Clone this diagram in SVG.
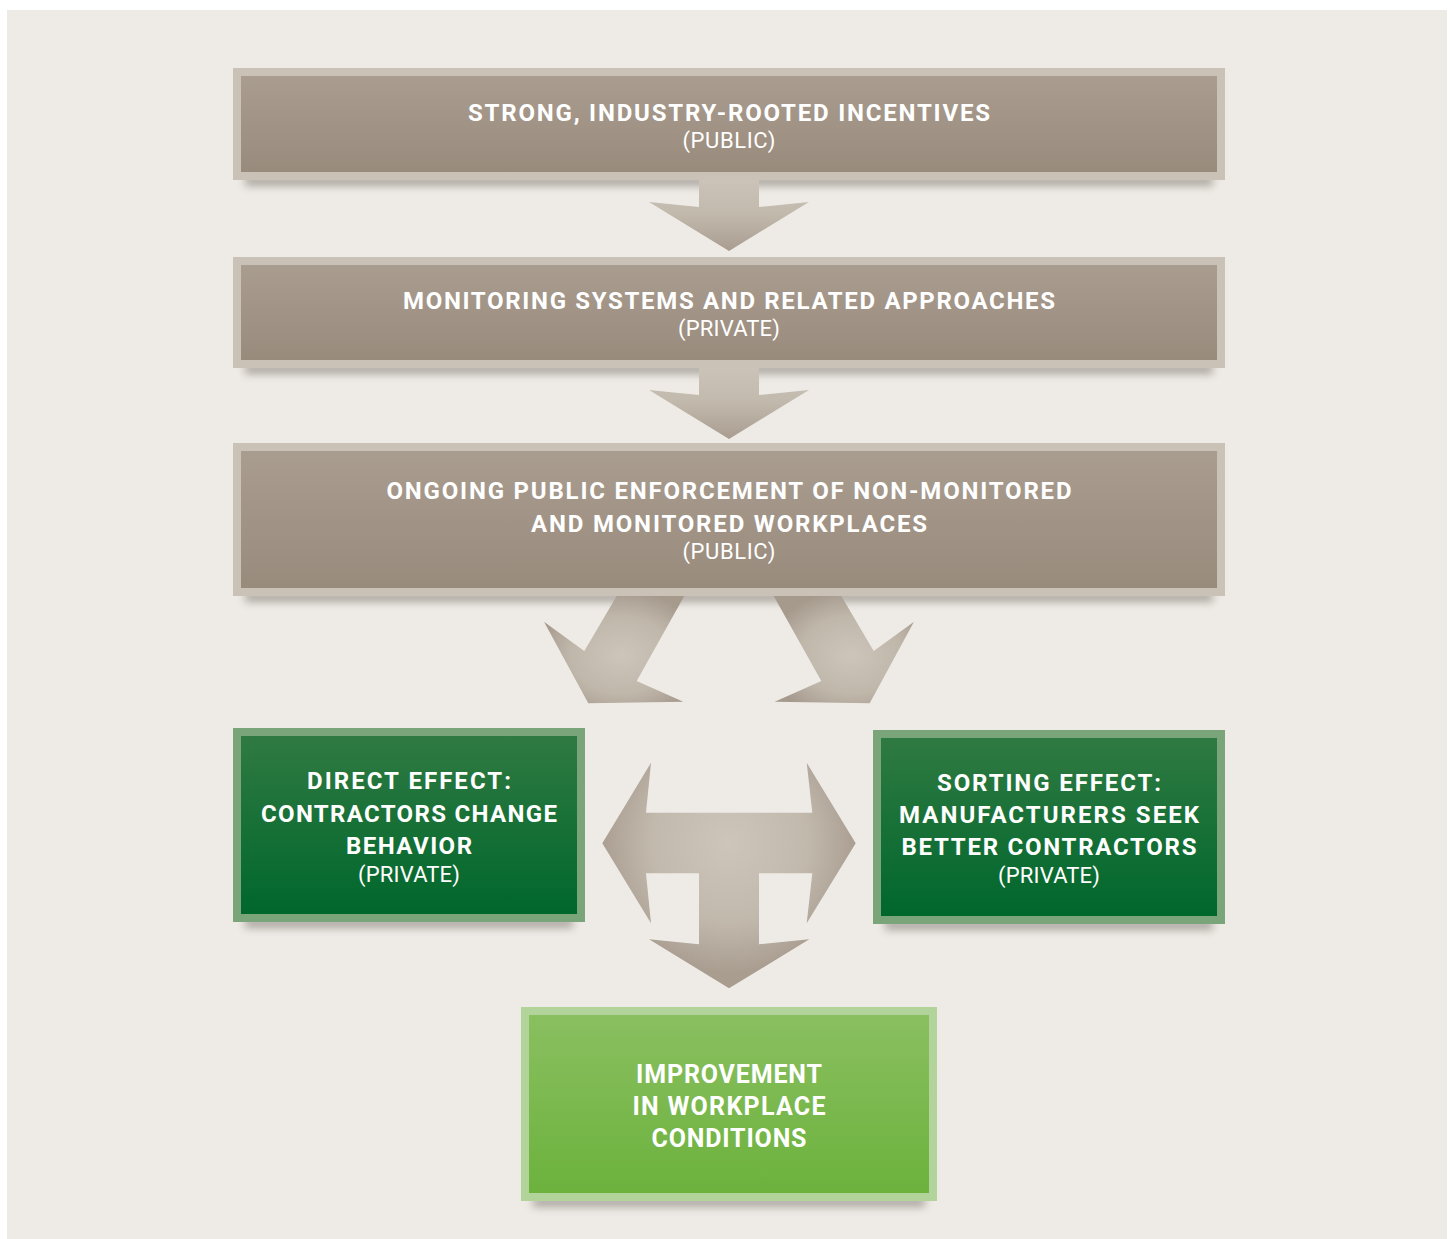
<svg xmlns="http://www.w3.org/2000/svg" width="1453" height="1239" viewBox="0 0 1453 1239">
<defs>
<style>
.t{font-family:Roboto,'Liberation Sans',sans-serif;font-weight:700;font-size:24px;fill:#ffffff;text-anchor:middle}
.p{font-weight:400;font-size:22px}
.b{font-size:25px}
.brownB{fill:#CAC2B7}
.brownI{fill:url(#gBrown)}
.dgB{fill:#7AA57A}
.dgI{fill:url(#gDark)}
.lgB{fill:#B2D49A}
.lgI{fill:url(#gLight)}
.sh{fill:#5a5148;opacity:0.45;filter:url(#blur)}
</style>
<linearGradient id="gBrown" x1="0" y1="0" x2="0" y2="1"><stop offset="0" stop-color="#A99D90"/><stop offset="1" stop-color="#998B7C"/></linearGradient>
<linearGradient id="gDark" x1="0" y1="0" x2="0" y2="1"><stop offset="0" stop-color="#2F7A42"/><stop offset="1" stop-color="#00672C"/></linearGradient>
<linearGradient id="gLight" x1="0" y1="0" x2="0" y2="1"><stop offset="0" stop-color="#8ABF60"/><stop offset="1" stop-color="#6CB23D"/></linearGradient>
<linearGradient id="gArrow" x1="0" y1="0" x2="0" y2="1"><stop offset="0" stop-color="#CBC3B8"/><stop offset="0.45" stop-color="#C3BAAE"/><stop offset="1" stop-color="#A99D90"/></linearGradient>
<radialGradient id="gDiag" cx="0.55" cy="0.55" r="0.6"><stop offset="0" stop-color="#CDC5BA"/><stop offset="0.6" stop-color="#C0B7AB"/><stop offset="1" stop-color="#A69A8D"/></radialGradient>
<radialGradient id="gT" gradientUnits="userSpaceOnUse" cx="729" cy="843" r="130"><stop offset="0" stop-color="#CDC5BA"/><stop offset="0.6" stop-color="#C2B9AD"/><stop offset="1" stop-color="#A99D90"/></radialGradient>
<filter id="blur" x="-10%" y="-100%" width="120%" height="300%"><feGaussianBlur stdDeviation="4"/></filter>
</defs>
<rect x="0" y="0" width="1453" height="1239" fill="#ffffff"/>
<rect x="7" y="10" width="1440" height="1229" fill="#EEEBE6"/>

<g id="shadows">
<rect class="sh" x="245" y="176" width="968" height="10"/>
<rect class="sh" x="245" y="364" width="968" height="10"/>
<rect class="sh" x="245" y="592" width="968" height="10"/>
<rect class="sh" x="245" y="918" width="328" height="10"/>
<rect class="sh" x="885" y="920" width="328" height="10"/>
<rect class="sh" x="533" y="1197" width="392" height="10"/>
</g>

<g id="connectors">
<polygon fill="url(#gArrow)" points="699,180 759,180 759,207 809,202 729,251 649,202 699,207"/>
<polygon fill="url(#gArrow)" points="699,368 759,368 759,395 809,390 729,439 649,390 699,395"/>
<polygon fill="url(#gDiag)" points="616.7,596 684.3,596 636.7,681 683.3,701.7 588.3,703.3 544,621.7 584.3,651"/>
<polygon fill="url(#gDiag)" points="773.7,596 841.3,596 873.7,651 914,621.7 869.7,703.3 774.7,701.7 821.3,681"/>
<polygon fill="url(#gT)" points="602.3,843.3 651,762.7 646,812.7 812.3,812.7 806.7,762.7 855.7,843.3 806.7,923.3 812.3,873.3 759,873.3 759,944.3 809.3,939.3 729,988.3 649,939.3 699,944.3 699,873.3 646,873.3 651,923.3"/>
</g>

<g id="node-incentives">
<rect class="brownB" x="233" y="68" width="992" height="112"/>
<rect class="brownI" x="241" y="76" width="976" height="96"/>
<text class="t" x="729" y="121" textLength="522" lengthAdjust="spacing">STRONG, INDUSTRY-ROOTED INCENTIVES</text>
<text class="t p" x="729" y="148" textLength="93" lengthAdjust="spacing">(PUBLIC)</text>
</g>

<g id="node-monitoring">
<rect class="brownB" x="233" y="257" width="992" height="111"/>
<rect class="brownI" x="241" y="265" width="976" height="95"/>
<text class="t" x="729" y="309" textLength="652" lengthAdjust="spacing">MONITORING SYSTEMS AND RELATED APPROACHES</text>
<text class="t p" x="729" y="336" textLength="102" lengthAdjust="spacing">(PRIVATE)</text>
</g>

<g id="node-enforcement">
<rect class="brownB" x="233" y="443" width="992" height="153"/>
<rect class="brownI" x="241" y="451" width="976" height="137"/>
<text class="t" x="729" y="499.3" textLength="685" lengthAdjust="spacing">ONGOING PUBLIC ENFORCEMENT OF NON-MONITORED</text>
<text class="t" x="729" y="531.6" textLength="396" lengthAdjust="spacing">AND MONITORED WORKPLACES</text>
<text class="t p" x="729" y="559" textLength="93" lengthAdjust="spacing">(PUBLIC)</text>
</g>

<g id="node-direct">
<rect class="dgB" x="233" y="728" width="352" height="194"/>
<rect class="dgI" x="241" y="736" width="336" height="178"/>
<text class="t" x="409" y="789" textLength="204" lengthAdjust="spacing">DIRECT EFFECT:</text>
<text class="t" x="409" y="821.7" textLength="296" lengthAdjust="spacing">CONTRACTORS CHANGE</text>
<text class="t" x="409" y="854" textLength="126" lengthAdjust="spacing">BEHAVIOR</text>
<text class="t p" x="409" y="881.7" textLength="102" lengthAdjust="spacing">(PRIVATE)</text>
</g>

<g id="node-sorting">
<rect class="dgB" x="873" y="730" width="352" height="194"/>
<rect class="dgI" x="881" y="738" width="336" height="178"/>
<text class="t" x="1049" y="791" textLength="224" lengthAdjust="spacing">SORTING EFFECT:</text>
<text class="t" x="1049" y="822.7" textLength="300" lengthAdjust="spacing">MANUFACTURERS SEEK</text>
<text class="t" x="1049" y="855.3" textLength="295" lengthAdjust="spacing">BETTER CONTRACTORS</text>
<text class="t p" x="1049" y="883.3" textLength="102" lengthAdjust="spacing">(PRIVATE)</text>
</g>

<g id="node-improvement">
<rect class="lgB" x="521" y="1007" width="416" height="194"/>
<rect class="lgI" x="529" y="1015" width="400" height="178"/>
<text class="t b" x="729" y="1082.7" textLength="186" lengthAdjust="spacing">IMPROVEMENT</text>
<text class="t b" x="729" y="1115" textLength="193" lengthAdjust="spacing">IN WORKPLACE</text>
<text class="t b" x="729" y="1146.7" textLength="155" lengthAdjust="spacing">CONDITIONS</text>
</g>
</svg>
